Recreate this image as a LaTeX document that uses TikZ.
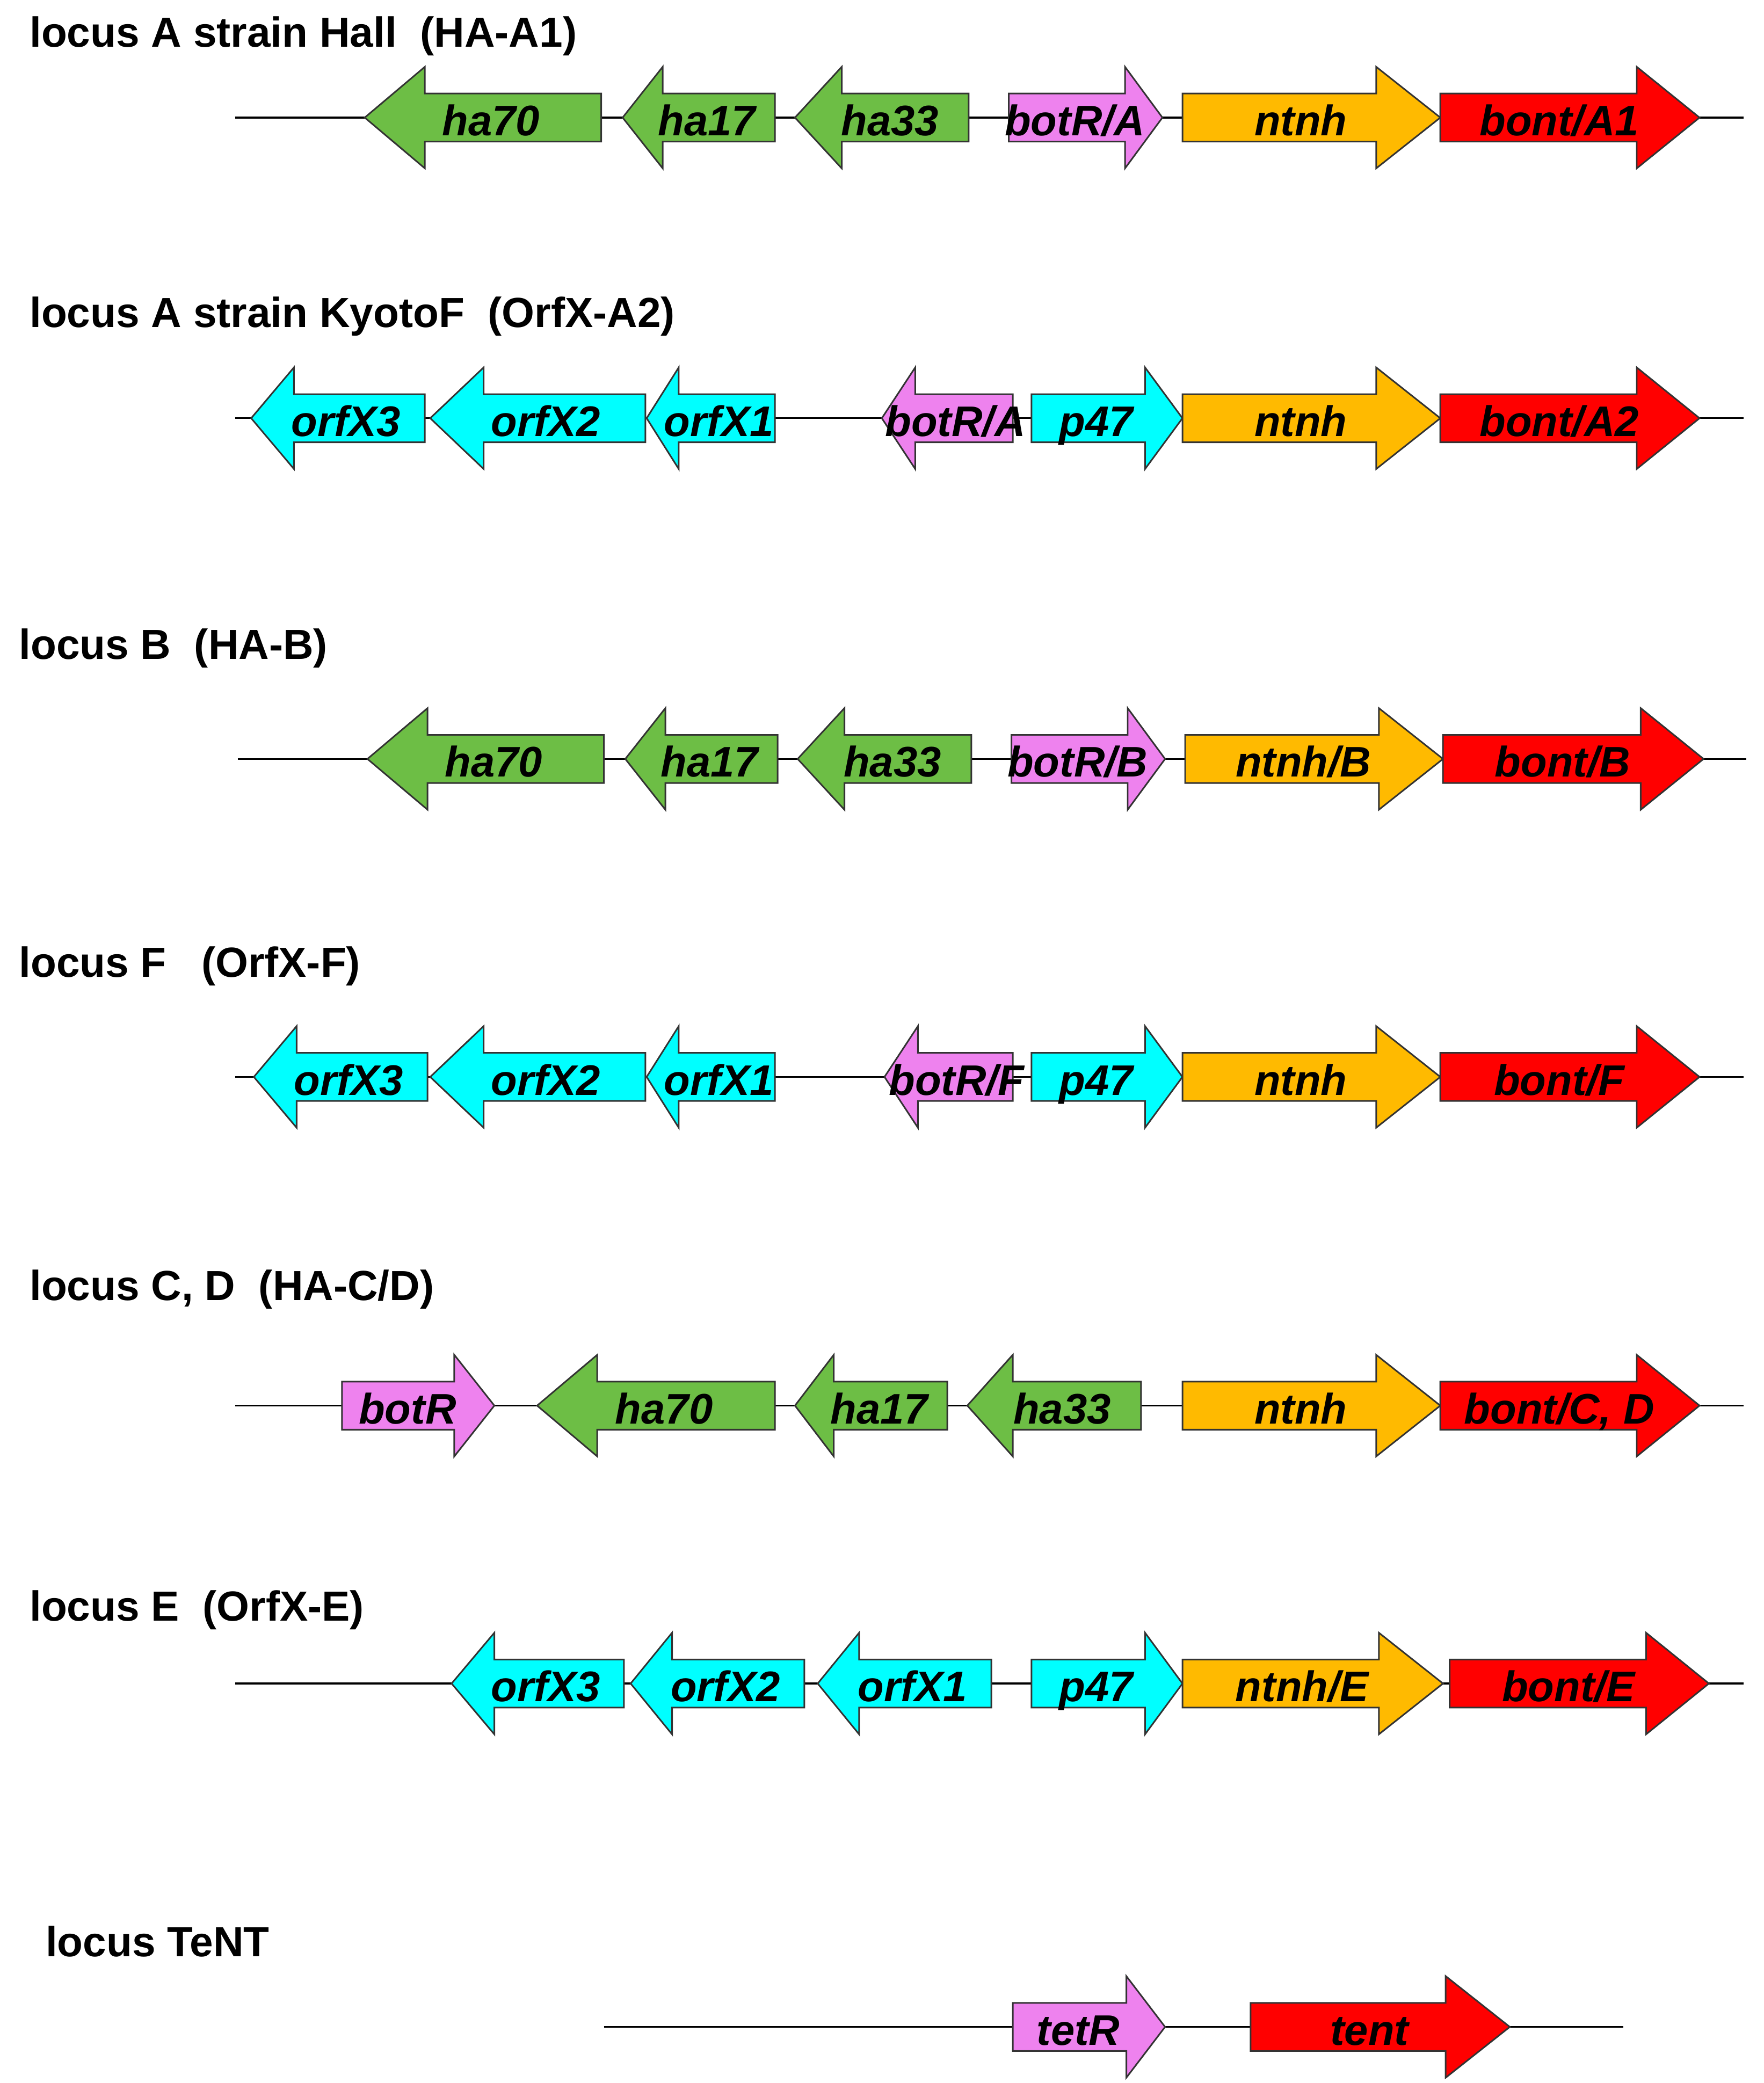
\documentclass[tikz,border=0pt]{standalone}
\usepackage{fontspec}
\setmainfont{Liberation Sans}
\definecolor{cgreen}{HTML}{6DBE45}
\definecolor{ccyan}{HTML}{00FFFF}
\definecolor{cpink}{HTML}{EE82EE}
\definecolor{corange}{HTML}{FFBA00}
\definecolor{cred}{HTML}{FF0000}
\tikzset{gene/.style={draw=black!80,line width=1.2pt,line join=miter},
 glabel/.style={font=\fontsize{32}{36}\selectfont\bfseries\itshape,inner sep=0pt,text height=23pt,text depth=0pt,yshift=-2pt},
 ttl/.style={font=\fontsize{31.5}{36}\selectfont\bfseries,anchor=west,inner sep=0pt},
 bline/.style={line width=1.3pt}}
% right arrow: x1,x2,y,head,color,label
\newcommand\rgene[6]{\draw[gene,fill=#5] (#1,#3-18)--(#2-#4,#3-18)--(#2-#4,#3-38)--(#2,#3)--(#2-#4,#3+38)--(#2-#4,#3+18)--(#1,#3+18)--cycle;
 \node[glabel] at ({(#1+#2)/2-8},#3) {#6};}
% left arrow: x1(tip),x2,y,head,color,label
\newcommand\lgene[6]{\draw[gene,fill=#5] (#2,#3-18)--(#1+#4,#3-18)--(#1+#4,#3-38)--(#1,#3)--(#1+#4,#3+38)--(#1+#4,#3+18)--(#2,#3+18)--cycle;
 \node[glabel] at ({(#1+#2)/2+6},#3) {#6};}
\begin{document}
\begin{tikzpicture}[x=1pt,y=-1pt]
\useasboundingbox[fill=white] (0,0) rectangle (1320,1559);
% row 1
\node[ttl] (t1) at (22,27) {locus A strain Hall\ \ (HA-A1)};
\draw[bline] (176,88)--(1305,88);
\lgene{273}{450}{88}{45}{cgreen}{ha70}
\lgene{466}{580}{88}{30}{cgreen}{ha17}
\lgene{595}{725}{88}{35}{cgreen}{ha33}
\rgene{755}{870}{88}{28}{cpink}{botR/A}
\rgene{885}{1078}{88}{48}{corange}{ntnh}
\rgene{1078}{1272}{88}{47}{cred}{bont/A1}
% row 2
\node[ttl] (t2) at (22,237) {locus A strain KyotoF\ \ (OrfX-A2)};
\draw[bline] (176,313)--(1305,313);
\lgene{188}{318}{313}{32}{ccyan}{orfX3}
\lgene{322}{483}{313}{40}{ccyan}{orfX2}
\lgene{484}{580}{313}{24}{ccyan}{orfX1}
\lgene{660}{758}{313}{25}{cpink}{botR/A}
\rgene{772}{885}{313}{28}{ccyan}{p47}
\rgene{885}{1078}{313}{48}{corange}{ntnh}
\rgene{1078}{1272}{313}{47}{cred}{bont/A2}
% row 3
\node[ttl] (t3) at (14,485) {locus B\ \ (HA-B)};
\draw[bline] (178,568)--(1307,568);
\lgene{275}{452}{568}{45}{cgreen}{ha70}
\lgene{468}{582}{568}{30}{cgreen}{ha17}
\lgene{597}{727}{568}{35}{cgreen}{ha33}
\rgene{757}{872}{568}{28}{cpink}{botR/B}
\rgene{887}{1080}{568}{48}{corange}{ntnh/B}
\rgene{1080}{1275}{568}{47}{cred}{bont/B}
% row 4
\node[ttl] (t4) at (14,723) {locus F\ \ \ (OrfX-F)};
\draw[bline] (176,806)--(1305,806);
\lgene{190}{320}{806}{32}{ccyan}{orfX3}
\lgene{322}{483}{806}{40}{ccyan}{orfX2}
\lgene{484}{580}{806}{24}{ccyan}{orfX1}
\lgene{662}{758}{806}{25}{cpink}{botR/F}
\rgene{772}{885}{806}{28}{ccyan}{p47}
\rgene{885}{1078}{806}{48}{corange}{ntnh}
\rgene{1078}{1272}{806}{47}{cred}{bont/F}
% row 5
\node[ttl] (t5) at (22,965) {locus C, D\ \ (HA-C/D)};
\draw[bline] (176,1052)--(1305,1052);
\rgene{256}{370}{1052}{30}{cpink}{botR}
\lgene{402}{580}{1052}{45}{cgreen}{ha70}
\lgene{595}{709}{1052}{29}{cgreen}{ha17}
\lgene{724}{854}{1052}{34}{cgreen}{ha33}
\rgene{885}{1078}{1052}{48}{corange}{ntnh}
\rgene{1078}{1272}{1052}{47}{cred}{bont/C, D}
% row 6
\node[ttl] (t6) at (22,1205) {locus E\ \ (OrfX-E)};
\draw[bline] (176,1260)--(1305,1260);
\lgene{338}{467}{1260}{32}{ccyan}{orfX3}
\lgene{472}{602}{1260}{31}{ccyan}{orfX2}
\lgene{612}{742}{1260}{31}{ccyan}{orfX1}
\rgene{772}{885}{1260}{28}{ccyan}{p47}
\rgene{885}{1080}{1260}{48}{corange}{ntnh/E}
\rgene{1085}{1279}{1260}{47}{cred}{bont/E}
% row 7
\node[ttl] (t7) at (34,1453) {locus TeNT};
\draw[bline] (452,1517)--(1215,1517);
\rgene{758}{872}{1517}{29}{cpink}{tetR}
\rgene{936}{1130}{1517}{48}{cred}{tent}
\end{tikzpicture}
\end{document}
